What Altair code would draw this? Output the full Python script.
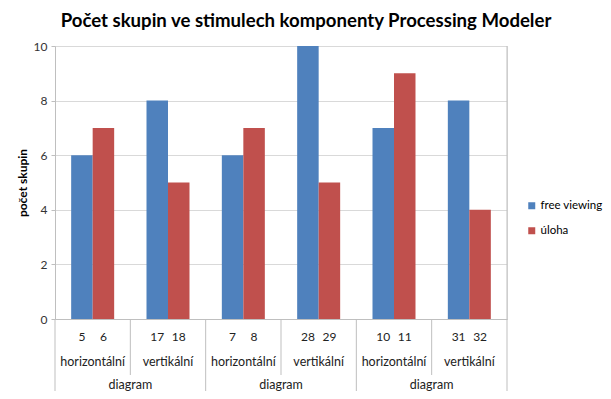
import altair as alt
import pandas as pd

groups = ["g1", "g2", "g3", "g4", "g5", "g6"]
series = ["free viewing", "úloha"]
free_viewing = [6, 8, 6, 10, 7, 8]
uloha = [7, 5, 7, 5, 9, 4]
stim_free = ["5", "17", "7", "28", "10", "31"]
stim_uloha = ["6", "18", "8", "29", "11", "32"]
orientation = ["horizontální", "vertikální", "horizontální", "vertikální", "horizontální", "vertikální"]
top_level = ["diagram", "diagram", "diagram"]

FONT = "Lato"
BLUE = "#4F81BD"
RED = "#C0504D"
GRID = "#D9D9D9"
AXIS = "#BFBFBF"

rows = []
for i, g in enumerate(groups):
    rows.append({"group": g, "series": series[0], "value": free_viewing[i], "stim": stim_free[i]})
    rows.append({"group": g, "series": series[1], "value": uloha[i], "stim": stim_uloha[i]})
bars_df = pd.DataFrame(rows)
orient_df = pd.DataFrame({"group": groups, "label": orientation})
top_df = pd.DataFrame({"group": groups[0::2], "label": top_level})
short_div = pd.DataFrame({"group": groups[1::2]})
tall_div = pd.DataFrame({"group": groups[0::2]})
end_div = pd.DataFrame({"group": groups[-1:]})

W, H = 452, 273
xscale = alt.Scale(domain=groups, paddingInner=0, paddingOuter=0)
xoff_scale = alt.Scale(domain=series, paddingInner=0, paddingOuter=0.752)

bars = alt.Chart(bars_df).mark_bar().encode(
    x=alt.X("group:N", scale=xscale, sort=groups,
            axis=alt.Axis(labels=False, ticks=False, title=None, grid=False,
                          domainColor=AXIS, domainWidth=1)),
    xOffset=alt.XOffset("series:N", scale=xoff_scale, sort=series),
    y=alt.Y("value:Q", scale=alt.Scale(domain=[0, 10], nice=False),
            axis=alt.Axis(values=[0, 2, 4, 6, 8, 10], title="počet skupin",
                          titleFont=FONT, titleFontSize=12, titleFontWeight="bold",
                          titleColor="#000", titlePadding=4,
                          labelFont=FONT, labelFontSize=12, labelColor="#333",
                          labelPadding=4, tickSize=4, tickColor=AXIS,
                          domainColor=AXIS, gridColor=GRID, grid=True)),
    color=alt.Color("series:N", sort=series,
                    scale=alt.Scale(domain=series, range=[BLUE, RED]),
                    legend=alt.Legend(title=None, orient="none", legendX=471, legendY=154,
                                      symbolType="square", symbolSize=49,
                                      symbolStrokeWidth=0,
                                      labelFont=FONT, labelFontSize=11.5, labelColor="#000",
                                      rowPadding=12, padding=0, labelOffset=3)),
)

nums = alt.Chart(bars_df).mark_text(font=FONT, fontSize=12, color="#222", baseline="middle").encode(
    x=alt.X("group:N", scale=xscale, sort=groups),
    xOffset=alt.XOffset("series:N", scale=xoff_scale, sort=series),
    y=alt.value(291),
    text="stim:N",
)

orient_txt = alt.Chart(orient_df).mark_text(font=FONT, fontSize=12.5, color="#222", baseline="middle").encode(
    x=alt.X("group:N", scale=xscale, sort=groups),
    y=alt.value(316),
    text="label:N",
)

top_txt = alt.Chart(top_df).mark_text(font=FONT, fontSize=12.5, color="#222", baseline="middle").encode(
    x=alt.X("group:N", scale=xscale, sort=groups, bandPosition=1),
    y=alt.value(339),
    text="label:N",
)

short_rules = alt.Chart(short_div).mark_rule(color=AXIS, strokeWidth=1).encode(
    x=alt.X("group:N", scale=xscale, sort=groups, bandPosition=0),
    y=alt.value(H), y2=alt.value(H + 56),
)
tall_rules = alt.Chart(tall_div).mark_rule(color=AXIS, strokeWidth=1).encode(
    x=alt.X("group:N", scale=xscale, sort=groups, bandPosition=0),
    y=alt.value(H), y2=alt.value(H + 72),
)
end_rule = alt.Chart(end_div).mark_rule(color=AXIS, strokeWidth=1).encode(
    x=alt.X("group:N", scale=xscale, sort=groups, bandPosition=1),
    y=alt.value(0), y2=alt.value(H + 72),
)

chart = alt.layer(bars, nums, orient_txt, top_txt, short_rules, tall_rules, end_rule).properties(
    width=W, height=H,
    title=alt.TitleParams("Počet skupin ve stimulech komponenty Processing Modeler",
                          font=FONT, fontSize=18.6, fontWeight="bold", color="#000",
                          anchor="middle", dx=25, offset=9),
    autosize=alt.AutoSizeParams(type="none"),
    padding={"left": 47, "top": 38, "right": 96, "bottom": 72},
).configure_view(strokeWidth=0).configure(background="white")

chart.save("out.html", embed_options={"renderer": "svg", "actions": False})
